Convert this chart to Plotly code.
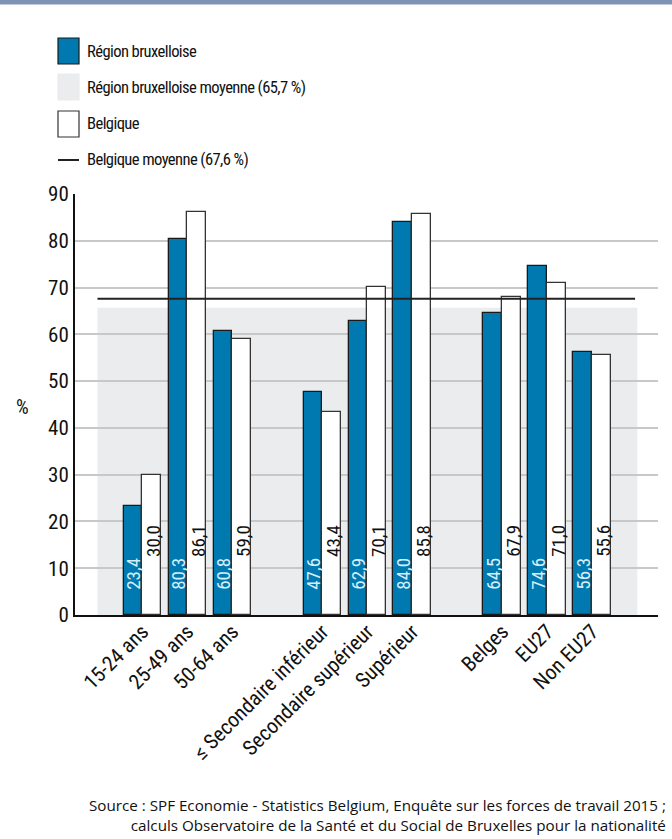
import plotly.graph_objects as go

categories = ["15-24 ans", "25-49 ans", "50-64 ans",
              "\u2264 Secondaire inférieur", "Secondaire supérieur", "Supérieur",
              "Belges", "EU27", "Non EU27"]
positions = [0, 1, 2, 4, 5, 6, 8, 9, 10]
bruxelles = [23.4, 80.3, 60.8, 47.6, 62.9, 84.0, 64.5, 74.6, 56.3]
belgique = [30.0, 86.1, 59.0, 43.4, 70.1, 85.8, 67.9, 71.0, 55.6]
moy_bruxelles = 65.7
moy_belgique = 67.6
y_ticks = [0, 10, 20, 30, 40, 50, 60, 70, 80, 90]

W, H = 672, 839
ML, MR, MT, MB = 75, 14, 194, 224
PH = H - MT - MB

def py(pix):
    return 1 - (pix - MT) / PH

def px(pix):
    return (pix - ML) / (W - ML - MR)

BLUE = "#0079b0"
COND = "Roboto"  # rendered condensed through CSS font-stretch
LEG_SIZE = 16.6
fmt = lambda v: f"{v:.1f}".replace(".", ",")

fig = go.Figure()
bw = 0.42
fig.add_trace(go.Bar(x=positions, y=bruxelles, width=bw, offset=-bw,
                     marker=dict(color=BLUE, line=dict(color="#1a1a1a", width=1.3)),
                     showlegend=False, hoverinfo="skip"))
fig.add_trace(go.Bar(x=positions, y=belgique, width=bw, offset=0,
                     marker=dict(color="white", line=dict(color="#333333", width=1.3)),
                     showlegend=False, hoverinfo="skip"))

shapes = []
shapes.append(dict(type="rect", xref="x", yref="y", x0=-1, x1=11, y0=0, y1=moy_bruxelles,
                   fillcolor="#ebeced", line=dict(width=0), layer="below"))
shapes.append(dict(type="line", xref="x", yref="y", x0=-1, x1=10.95, y0=moy_belgique, y1=moy_belgique,
                   line=dict(color="#222222", width=2), layer="above"))
shapes.append(dict(type="rect", xref="paper", yref="paper", x0=px(0), x1=px(W), y0=py(0), y1=py(4.5),
                   fillcolor="#7f93b5", line=dict(width=0)))

annotations = []
for p, b, g in zip(positions, bruxelles, belgique):
    annotations.append(dict(x=p - bw / 2 + 0.02, y=8.8, xref="x", yref="y", text=fmt(b), textangle=-90,
                            showarrow=False, font=dict(family=COND, size=19, color="#d5eefb"),
                            xanchor="center", yanchor="middle"))
    annotations.append(dict(x=p + bw / 2 + 0.02, y=15.8, xref="x", yref="y", text=fmt(g), textangle=-90,
                            showarrow=False, font=dict(family=COND, size=19, color="#111111"),
                            xanchor="center", yanchor="middle"))

leg_items = [("Région bruxelloise", "rect", BLUE, "#1a1a1a", 51),
             ("Région bruxelloise moyenne (65,7 %)", "rect", "#ebeced", "#ebeced", 87),
             ("Belgique", "rect", "white", "#333333", 124),
             ("Belgique moyenne (67,6 %)", "line", "#222222", "#222222", 160)]
for label, kind, fill, edge, cy in leg_items:
    if kind == "rect":
        shapes.append(dict(type="rect", xref="paper", yref="paper", x0=px(58), x1=px(79),
                           y0=py(cy + 13), y1=py(cy - 13), fillcolor=fill,
                           line=dict(color=edge, width=1.2)))
    else:
        shapes.append(dict(type="line", xref="paper", yref="paper", x0=px(58), x1=px(79),
                           y0=py(cy), y1=py(cy), line=dict(color=fill, width=2)))
    annotations.append(dict(x=px(85), y=py(cy), xref="paper", yref="paper", text=label,
                            showarrow=False, xanchor="left", yanchor="middle", align="left",
                            font=dict(family=COND, size=LEG_SIZE, color="#111111")))

annotations.append(dict(x=px(22), y=py(407), xref="paper", yref="paper", text="%",
                        showarrow=False, xanchor="center", yanchor="middle",
                        font=dict(family=COND, size=20, color="#111111")))
annotations.append(dict(x=px(668), y=py(815), xref="paper", yref="paper",
                        text="Source : SPF Economie - Statistics Belgium, Enquête sur les forces de travail 2015 ;<br>"
                             "calculs Observatoire de la Santé et du Social de Bruxelles pour la nationalité",
                        showarrow=False, xanchor="right", yanchor="middle", align="right",
                        font=dict(family="Open Sans, sans-serif", size=15.2, color="#111111")))

fig.update_layout(
    width=W, height=H, margin=dict(l=ML, r=MR, t=MT, b=MB, autoexpand=False),
    paper_bgcolor="white", plot_bgcolor="white",
    barmode="overlay", bargap=0,
    shapes=shapes, annotations=annotations, showlegend=False,
    xaxis=dict(range=[-1.5, 11.46], tickmode="array", tickvals=positions, ticktext=categories,
               tickangle=-45, showgrid=False, zeroline=False, showline=True,
               linecolor="#111111", linewidth=2, ticks="", ticklabelstandoff=-6,
               tickfont=dict(family=COND, size=21, color="#111111")),
    yaxis=dict(range=[0, 90], tickmode="array", tickvals=y_ticks, showgrid=True,
               gridcolor="#c8c8c8", gridwidth=1.5, zeroline=False, showline=True,
               linecolor="#111111", linewidth=2, ticks="",
               tickfont=dict(family=COND, size=21, color="#111111")),
)

css = ("text[style*='Roboto'] { font-stretch: condensed !important; } "
       "text[style*='font-size: 16.6px'] { letter-spacing: -0.6px; }")
fig.write_html("out.html", config={"displayModeBar": False},
               post_script=("document.body.style.margin='0';document.body.style.overflow='hidden';"
                            "var s=document.createElement('style');s.textContent=\"" + css + "\";"
                            "document.head.appendChild(s);"))
